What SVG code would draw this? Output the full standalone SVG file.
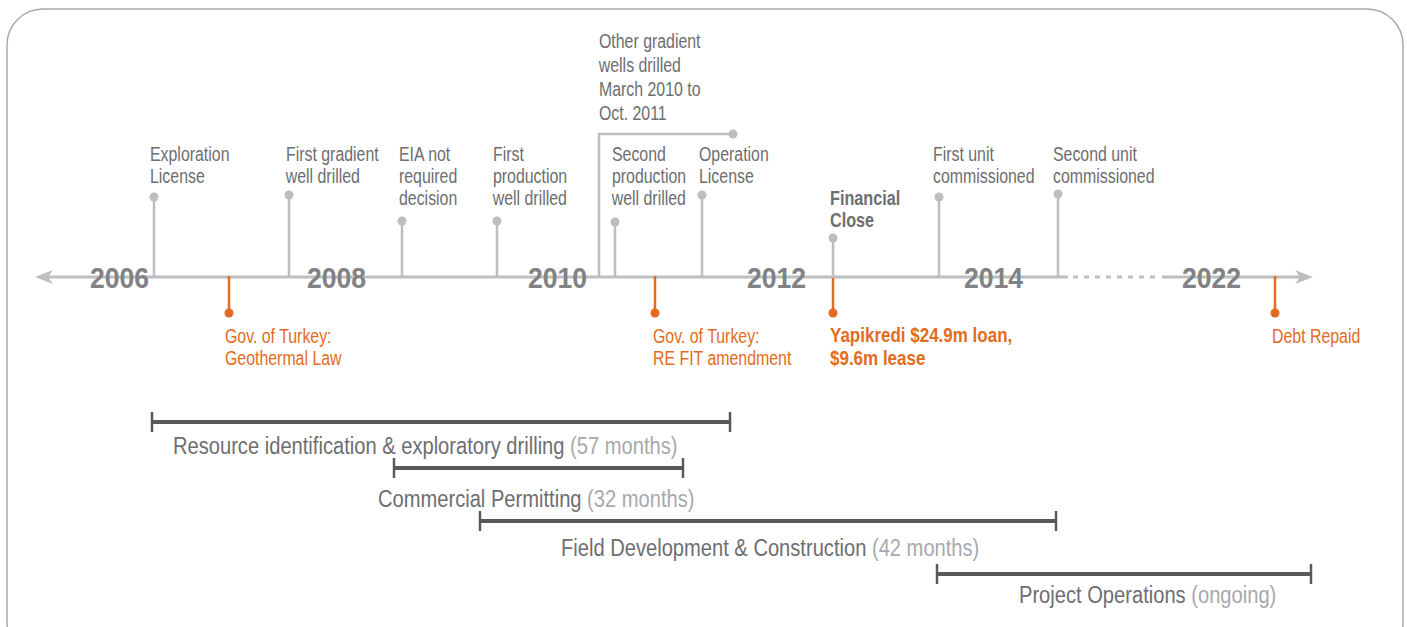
<svg xmlns="http://www.w3.org/2000/svg" width="1407" height="627" viewBox="0 0 1407 627">
<style>
.lbl{font-family:"Liberation Sans",sans-serif;font-size:20px;fill:#6d6e71;transform-box:fill-box;transform-origin:0 50%;transform:scaleX(0.795)}
.org{fill:#e36c21}
.b{font-weight:bold;transform:scaleX(0.81)}
.yk{font-weight:bold;transform:scaleX(0.85)}
.yr{font-family:"Liberation Sans",sans-serif;font-weight:bold;font-size:29.5px;fill:#808285;transform-box:fill-box;transform-origin:0 50%;transform:scaleX(0.9)}
.bar{font-family:"Liberation Sans",sans-serif;font-size:23px;fill:#6d6e71;transform-box:fill-box;transform-origin:0 50%;transform:scaleX(0.875)}
.lt{fill:#a7a9ac}
.stem{stroke:#bcbec0;stroke-width:2.5;fill:none}
.ostem{stroke:#e36c21;stroke-width:2.5;fill:none}
.gd{fill:#bcbec0}
.od{fill:#e36c21}
.bl{stroke:#58595b;stroke-width:4;fill:none}
.bt{stroke:#58595b;stroke-width:2.5;fill:none}
</style>
<rect x="7" y="9" width="1396" height="650" rx="36" ry="36" fill="#ffffff" stroke="#a7a9ac" stroke-width="1.5"/>
<g id="connectors">
<line x1="45" y1="277" x2="1068" y2="277" stroke="#bcbec0" stroke-width="3"/>
<line x1="1073" y1="277" x2="1158" y2="277" stroke="#bcbec0" stroke-width="3" stroke-dasharray="5 6"/>
<line x1="1162" y1="277" x2="1305" y2="277" stroke="#bcbec0" stroke-width="3"/>
<path d="M35 277 L53 270 L48 277 L53 284 Z" fill="#bcbec0"/>
<path d="M1313 277 L1295 270 L1300 277 L1295 284 Z" fill="#bcbec0"/>
<polyline class="stem" points="599,277 599,134 733,134"/>
<circle class="gd" cx="733" cy="134" r="4.5"/>
</g>
<g id="years">
<text class="yr" x="90" y="288">2006</text>
<text class="yr" x="307" y="288">2008</text>
<text class="yr" x="528" y="288">2010</text>
<text class="yr" x="747" y="288">2012</text>
<text class="yr" x="964" y="288">2014</text>
<text class="yr" x="1182" y="288">2022</text>
</g>
<g id="exploration-license">
<line class="stem" x1="154" y1="197" x2="154" y2="277"/><circle class="gd" cx="154" cy="197" r="4.5"/>
<text class="lbl" x="150" y="161">Exploration</text><text class="lbl" x="150" y="183">License</text>
</g>
<g id="first-gradient">
<line class="stem" x1="289" y1="195" x2="289" y2="277"/><circle class="gd" cx="289" cy="195" r="4.5"/>
<text class="lbl" x="286" y="161">First gradient</text><text class="lbl" x="286" y="183">well drilled</text>
</g>
<g id="eia">
<line class="stem" x1="402" y1="221" x2="402" y2="277"/><circle class="gd" cx="402" cy="221" r="4.5"/>
<text class="lbl" x="399" y="161">EIA not</text><text class="lbl" x="399" y="183">required</text><text class="lbl" x="399" y="205">decision</text>
</g>
<g id="first-production">
<line class="stem" x1="497" y1="221" x2="497" y2="277"/><circle class="gd" cx="497" cy="221" r="4.5"/>
<text class="lbl" x="493" y="161">First</text><text class="lbl" x="493" y="183">production</text><text class="lbl" x="493" y="205">well drilled</text>
</g>
<g id="other-gradient">
<text class="lbl" x="599" y="48">Other gradient</text><text class="lbl" x="599" y="72">wells drilled</text><text class="lbl" x="599" y="96">March 2010 to</text><text class="lbl" x="599" y="120">Oct. 2011</text>
</g>
<g id="second-production">
<line class="stem" x1="615" y1="222" x2="615" y2="277"/><circle class="gd" cx="615" cy="222" r="4.5"/>
<text class="lbl" x="612" y="161">Second</text><text class="lbl" x="612" y="183">production</text><text class="lbl" x="612" y="205">well drilled</text>
</g>
<g id="operation-license">
<line class="stem" x1="702" y1="195" x2="702" y2="277"/><circle class="gd" cx="702" cy="195" r="4.5"/>
<text class="lbl" x="699" y="161">Operation</text><text class="lbl" x="699" y="183">License</text>
</g>
<g id="financial-close">
<line class="stem" x1="833" y1="238" x2="833" y2="277"/><circle class="gd" cx="833" cy="238" r="4.5"/>
<text class="lbl b" x="830" y="205">Financial</text><text class="lbl b" x="830" y="227">Close</text>
</g>
<g id="first-unit">
<line class="stem" x1="939" y1="197" x2="939" y2="277"/><circle class="gd" cx="939" cy="197" r="4.5"/>
<text class="lbl" x="933" y="161">First unit</text><text class="lbl" x="933" y="183">commissioned</text>
</g>
<g id="second-unit">
<line class="stem" x1="1058" y1="194" x2="1058" y2="277"/><circle class="gd" cx="1058" cy="194" r="4.5"/>
<text class="lbl" x="1053" y="161">Second unit</text><text class="lbl" x="1053" y="183">commissioned</text>
</g>
<g id="geothermal-law">
<line class="ostem" x1="229" y1="276" x2="229" y2="313"/><circle class="od" cx="229" cy="313" r="4.5"/>
<text class="lbl org" x="225" y="343">Gov. of Turkey:</text><text class="lbl org" x="225" y="365">Geothermal Law</text>
</g>
<g id="re-fit">
<line class="ostem" x1="655" y1="276" x2="655" y2="313"/><circle class="od" cx="655" cy="313" r="4.5"/>
<text class="lbl org" x="653" y="343">Gov. of Turkey:</text><text class="lbl org" x="653" y="365">RE FIT amendment</text>
</g>
<g id="yapikredi">
<line class="ostem" x1="833" y1="278" x2="833" y2="313"/><circle class="od" cx="833" cy="313" r="4.5"/>
<text class="lbl org yk" x="830" y="342">Yapikredi $24.9m loan,</text><text class="lbl org yk" x="830" y="365">$9.6m lease</text>
</g>
<g id="debt-repaid">
<line class="ostem" x1="1275" y1="276" x2="1275" y2="313"/><circle class="od" cx="1275" cy="313" r="4.5"/>
<text class="lbl org" x="1272" y="343">Debt Repaid</text>
</g>
<g id="phase-resource">
<line class="bl" x1="152" y1="422" x2="730" y2="422"/><line class="bt" x1="152" y1="412" x2="152" y2="432"/><line class="bt" x1="730" y1="412" x2="730" y2="432"/>
<text class="bar" x="173" y="454">Resource identification &amp; exploratory drilling <tspan class="lt">(57 months)</tspan></text>
</g>
<g id="phase-permitting">
<line class="bl" x1="394" y1="468" x2="683" y2="468"/><line class="bt" x1="394" y1="458" x2="394" y2="478"/><line class="bt" x1="683" y1="458" x2="683" y2="478"/>
<text class="bar" x="378" y="507">Commercial Permitting <tspan class="lt">(32 months)</tspan></text>
</g>
<g id="phase-construction">
<line class="bl" x1="480" y1="521" x2="1056" y2="521"/><line class="bt" x1="480" y1="511" x2="480" y2="531"/><line class="bt" x1="1056" y1="511" x2="1056" y2="531"/>
<text class="bar" x="561" y="556">Field Development &amp; Construction <tspan class="lt">(42 months)</tspan></text>
</g>
<g id="phase-operations">
<line class="bl" x1="937" y1="574" x2="1311" y2="574"/><line class="bt" x1="937" y1="564" x2="937" y2="584"/><line class="bt" x1="1311" y1="564" x2="1311" y2="584"/>
<text class="bar" x="1019" y="603">Project Operations <tspan class="lt">(ongoing)</tspan></text>
</g>
</svg>
